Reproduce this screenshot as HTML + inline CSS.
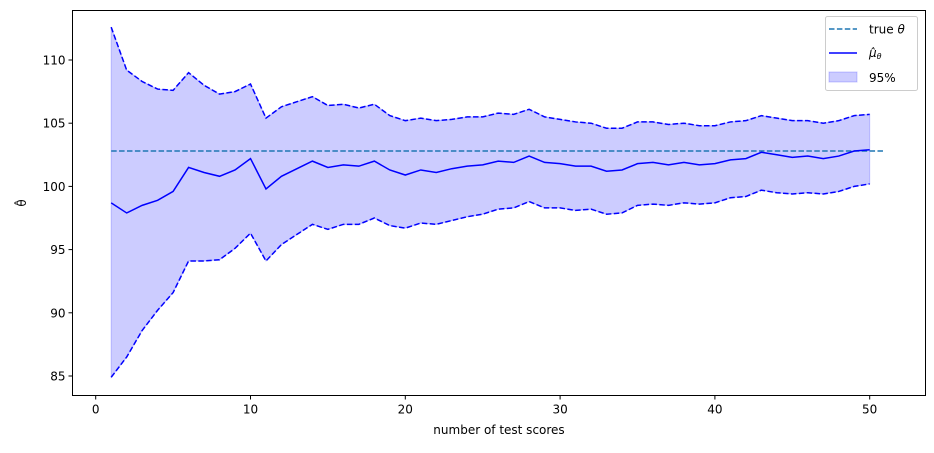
<!DOCTYPE html>
<html><head><meta charset="utf-8"><style>
body{margin:0;background:#fff}
svg text{font-family:"DejaVu Sans","Liberation Sans",sans-serif;fill:#000}
</style></head><body>
<svg width="934" height="448">
<g id="plot"></g>
</svg>
<script>
const xs=[];for(let i=1;i<=50;i++)xs.push(i);
const meanVals=[98.7,97.9,98.5,98.9,99.6,101.5,101.1,100.8,101.3,102.2,99.8,100.8,101.4,102.0,101.5,101.7,101.6,102.0,101.3,100.9,101.3,101.1,101.4,101.6,101.7,102.0,101.9,102.4,101.9,101.8,101.6,101.6,101.2,101.3,101.8,101.9,101.7,101.9,101.7,101.8,102.1,102.2,102.7,102.5,102.3,102.4,102.2,102.4,102.8,102.9];
const upperVals=[112.6,109.2,108.3,107.7,107.6,109.0,108.0,107.3,107.5,108.1,105.4,106.3,106.7,107.1,106.4,106.5,106.2,106.5,105.6,105.2,105.4,105.2,105.3,105.5,105.5,105.8,105.7,106.1,105.5,105.3,105.1,105.0,104.6,104.6,105.1,105.1,104.9,105.0,104.8,104.8,105.1,105.2,105.6,105.4,105.2,105.2,105.0,105.2,105.6,105.7];
const lowerVals=[84.9,86.5,88.6,90.2,91.6,94.1,94.1,94.2,95.1,96.3,94.1,95.4,96.2,97.0,96.6,97.0,97.0,97.5,96.9,96.7,97.1,97.0,97.3,97.6,97.8,98.2,98.3,98.8,98.3,98.3,98.1,98.2,97.8,97.9,98.5,98.6,98.5,98.7,98.6,98.7,99.1,99.2,99.7,99.5,99.4,99.5,99.4,99.6,100.0,100.2];
const trueTheta=102.8, trueRange=[1,51];
const xTicks=[0,10,20,30,40,50];
const yTicks=[85,90,95,100,105,110];

const X=v=>95.7+(v)*15.48, Y=v=>376-(v-85)*12.64;
const NS='http://www.w3.org/2000/svg';
const g=document.getElementById('plot');
function mk(t,a,p){const e=document.createElementNS(NS,t);for(const k in a)e.setAttribute(k,a[k]);(p||g).appendChild(e);return e;}
const L=72.5,R=925.5,T=10.5,B=395.5;
// band
let d='M'+xs.map((x,i)=>X(x)+','+Y(upperVals[i])).join('L')+'L'+xs.slice().reverse().map((x,j)=>X(x)+','+Y(lowerVals[49-j])).join('L')+'Z';
let band=mk('path',{d,fill:'rgba(0,0,255,0.2)',stroke:'rgba(0,0,255,0.2)'});


let tl=mk('line',{x1:X(trueRange[0]),x2:X(trueRange[1]),y1:Y(trueTheta),y2:Y(trueTheta),stroke:'#1f77b4','stroke-width':1.5,'stroke-dasharray':'5.5,2.4'});


function pl(vals,dash,name){const e=mk('polyline',{points:xs.map((x,i)=>X(x)+','+Y(vals[i])).join(' '),fill:'none',stroke:'#0000ff','stroke-width':1.5});if(dash)e.setAttribute('stroke-dasharray','5.5,2.4');

}
pl(upperVals,true,'upper-bound-line');pl(lowerVals,true,'lower-bound-line');pl(meanVals,false,'mean-line');
let fr=mk('rect',{x:L,y:T,width:R-L,height:B-T,fill:'none',stroke:'#000','stroke-width':1});


xTicks.forEach(v=>{mk('line',{x1:X(v),x2:X(v),y1:B,y2:B+4,stroke:'#000'});const t=mk('text',{x:X(v),y:B+18,'text-anchor':'middle','font-size':12});t.textContent=v;

});
yTicks.forEach(v=>{mk('line',{x1:L-4,x2:L,y1:Y(v),y2:Y(v),stroke:'#000'});const t=mk('text',{x:L-7,y:Y(v)+4.5,'text-anchor':'end','font-size':12});t.textContent=v;

});
</script>
<svg width="934" height="448" style="position:absolute;left:0;top:0">
<text x="499" y="434" text-anchor="middle" font-size="12">number of test scores</text>
<text transform="translate(26,203) rotate(-90)" text-anchor="middle" font-size="12">θ̂</text>
<g>
<rect x="825.5" y="16.5" width="92" height="74" rx="2" fill="#fff" stroke="#ccc"/>
<line x1="829" x2="857" y1="29" y2="29" stroke="#1f77b4" stroke-width="1.5" stroke-dasharray="5.5,2.4"/>
<text x="869" y="33.5" font-size="12">true <tspan font-style="italic">θ</tspan></text>
<line x1="829" x2="857" y1="53" y2="53" stroke="#0000ff" stroke-width="1.5"/>
<text x="869" y="57" font-size="12" font-style="italic">μ̂<tspan font-size="8" dy="2">θ</tspan></text>
<rect x="829" y="72" width="28" height="10" fill="rgba(0,0,255,0.2)" stroke="rgba(0,0,255,0.2)"/>
<text x="869" y="82" font-size="12">95%</text>
</g>
</svg>
</body></html>
